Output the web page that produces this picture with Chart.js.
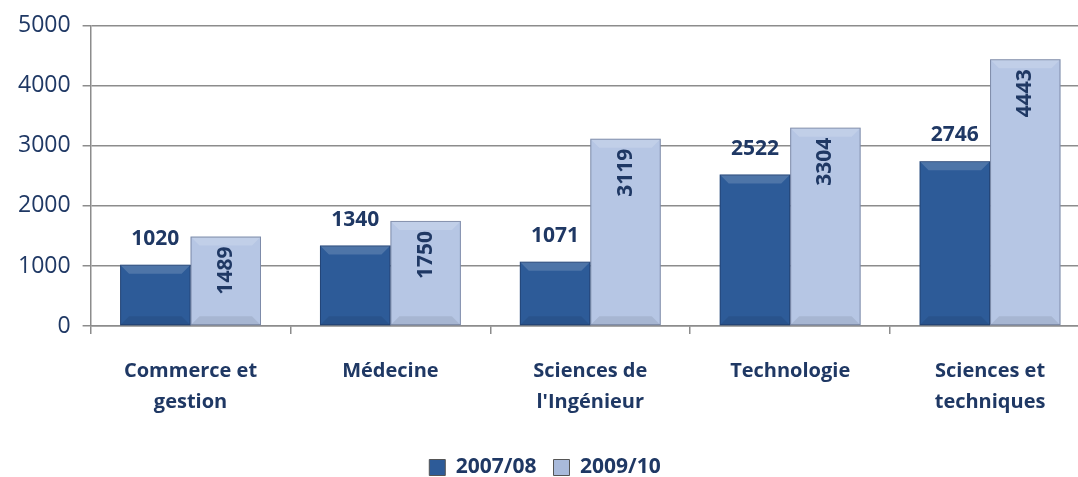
<!DOCTYPE html>
<html lang="fr">
<head>
<meta charset="UTF-8">
<title>Effectifs par filière</title>
<script src="https://cdn.jsdelivr.net/npm/chart.js"></script>
<style>
  html, body { margin: 0; padding: 0; background: #fff; overflow: hidden; }
  #wrap { width: 1092px; height: 488px; }
</style>
</head>
<body>
<div id="wrap"><canvas id="chart"></canvas></div>
<script>
const categories = [['Commerce et', 'gestion'], 'Médecine', ['Sciences de', "l'Ingénieur"], 'Technologie', ['Sciences et', 'techniques']];
const values2007 = [1020, 1340, 1071, 2522, 2746];
const values2009 = [1489, 1750, 3119, 3304, 4443];
const seriesNames = ['2007/08', '2009/10'];
const yTicks = [0, 1000, 2000, 3000, 4000, 5000];

const NAVY = '#1F3864';
const FONT = "'Open Sans', 'Noto Sans', sans-serif";

function barGradient(ctx, bar, stops) {
  const g = ctx.createLinearGradient(bar.x - bar.width / 2, 0, bar.x + bar.width / 2, 0);
  stops.forEach(s => g.addColorStop(s[0], s[1]));
  return g;
}

function fill(stops) {
  return function (c) {
    const bar = c.chart.getDatasetMeta(c.datasetIndex).data[c.dataIndex];
    if (!bar || !isFinite(bar.x)) return stops[1][1];
    return barGradient(c.chart.ctx, bar, stops);
  };
}

const darkStops = [[0, '#234A7E'], [0.12, '#2D5B98'], [0.88, '#2D5B98'], [1, '#21457A']];
const lightStops = [[0, '#9AAAC8'], [0.12, '#B6C6E4'], [0.88, '#A9BADB'], [1, '#8E9EBE']];

// bevel highlight + value labels
const barDecor = {
  id: 'barDecor',
  afterDatasetsDraw(chart) {
    const ctx = chart.ctx;
    chart.data.datasets.forEach((ds, di) => {
      chart.getDatasetMeta(di).data.forEach((bar, i) => {
        const l = bar.x - bar.width / 2, r = bar.x + bar.width / 2;
        const t = bar.y, b = bar.base, bv = 9;
        ctx.save();
        ctx.fillStyle = 'rgba(255,255,255,0.16)';
        ctx.beginPath();
        ctx.moveTo(l, t); ctx.lineTo(r, t); ctx.lineTo(r - bv, t + bv); ctx.lineTo(l + bv, t + bv);
        ctx.closePath(); ctx.fill();
        ctx.fillStyle = 'rgba(0,0,0,0.08)';
        ctx.beginPath();
        ctx.moveTo(l, b); ctx.lineTo(r, b); ctx.lineTo(r - bv, b - bv); ctx.lineTo(l + bv, b - bv);
        ctx.closePath(); ctx.fill();
        ctx.strokeStyle = 'rgba(20,30,60,0.35)';
        ctx.lineWidth = 1;
        ctx.strokeRect(l + 0.5, t + 0.5, bar.width - 1, b - t - 1);

        ctx.fillStyle = NAVY;
        ctx.font = "bold 21px " + FONT;
        const v = ds.data[i];
        if (di === 0) {
          ctx.textAlign = 'center';
          ctx.textBaseline = 'middle';
          ctx.fillText(v, bar.x, t - 26);
        } else {
          ctx.translate(bar.x, t + 10);
          ctx.rotate(-Math.PI / 2);
          ctx.textAlign = 'right';
          ctx.textBaseline = 'middle';
          ctx.fillText(v, 0, 0);
        }
        ctx.restore();
      });
    });
  }
};

new Chart(document.getElementById('chart'), {
  type: 'bar',
  data: {
    labels: categories,
    datasets: [
      { label: seriesNames[0], data: values2007, backgroundColor: fill(darkStops), borderWidth: 0 },
      { label: seriesNames[1], data: values2009, backgroundColor: fill(lightStops), borderWidth: 0 }
    ]
  },
  options: {
    responsive: true,
    maintainAspectRatio: false,
    animation: false,
    layout: { padding: { top: 6, left: 0, right: 2, bottom: 0 } },
    datasets: { bar: { categoryPercentage: 0.705, barPercentage: 1 } },
    plugins: {
      legend: {
        position: 'bottom',
        labels: {
          color: NAVY,
          font: { family: FONT, size: 21, weight: 'bold' },
          boxWidth: 16, boxHeight: 16, padding: 17,
          generateLabels(chart) {
            const cols = ['#2D5B98', '#A9BADB'];
            return chart.data.datasets.map((ds, i) => ({
              text: ds.label, fillStyle: cols[i], strokeStyle: '#555', lineWidth: 1,
              datasetIndex: i, fontColor: NAVY
            }));
          }
        }
      },
      tooltip: { enabled: false }
    },
    scales: {
      x: {
        grid: { offset: true, drawOnChartArea: false, color: '#8C8C8C', tickLength: 8, lineWidth: 1.5 },
        border: { color: '#8C8C8C', width: 1.5 },
        ticks: { color: NAVY, font: { family: FONT, size: 20, weight: 'bold', lineHeight: 1.55 }, padding: 22, maxRotation: 0 }
      },
      y: {
        min: 0, max: 5000,
        afterBuildTicks(scale) { scale.ticks = yTicks.map(v => ({ value: v })); },
        afterFit(scale) { scale.width += 6; },
        grid: { color: '#8C8C8C', lineWidth: 1.5, tickLength: 8 },
        border: { color: '#8C8C8C', width: 1.5 },
        ticks: { color: NAVY, font: { family: FONT, size: 23 }, padding: 12, callback: v => String(v) }
      }
    }
  },
  plugins: [barDecor]
});
</script>
</body>
</html>
